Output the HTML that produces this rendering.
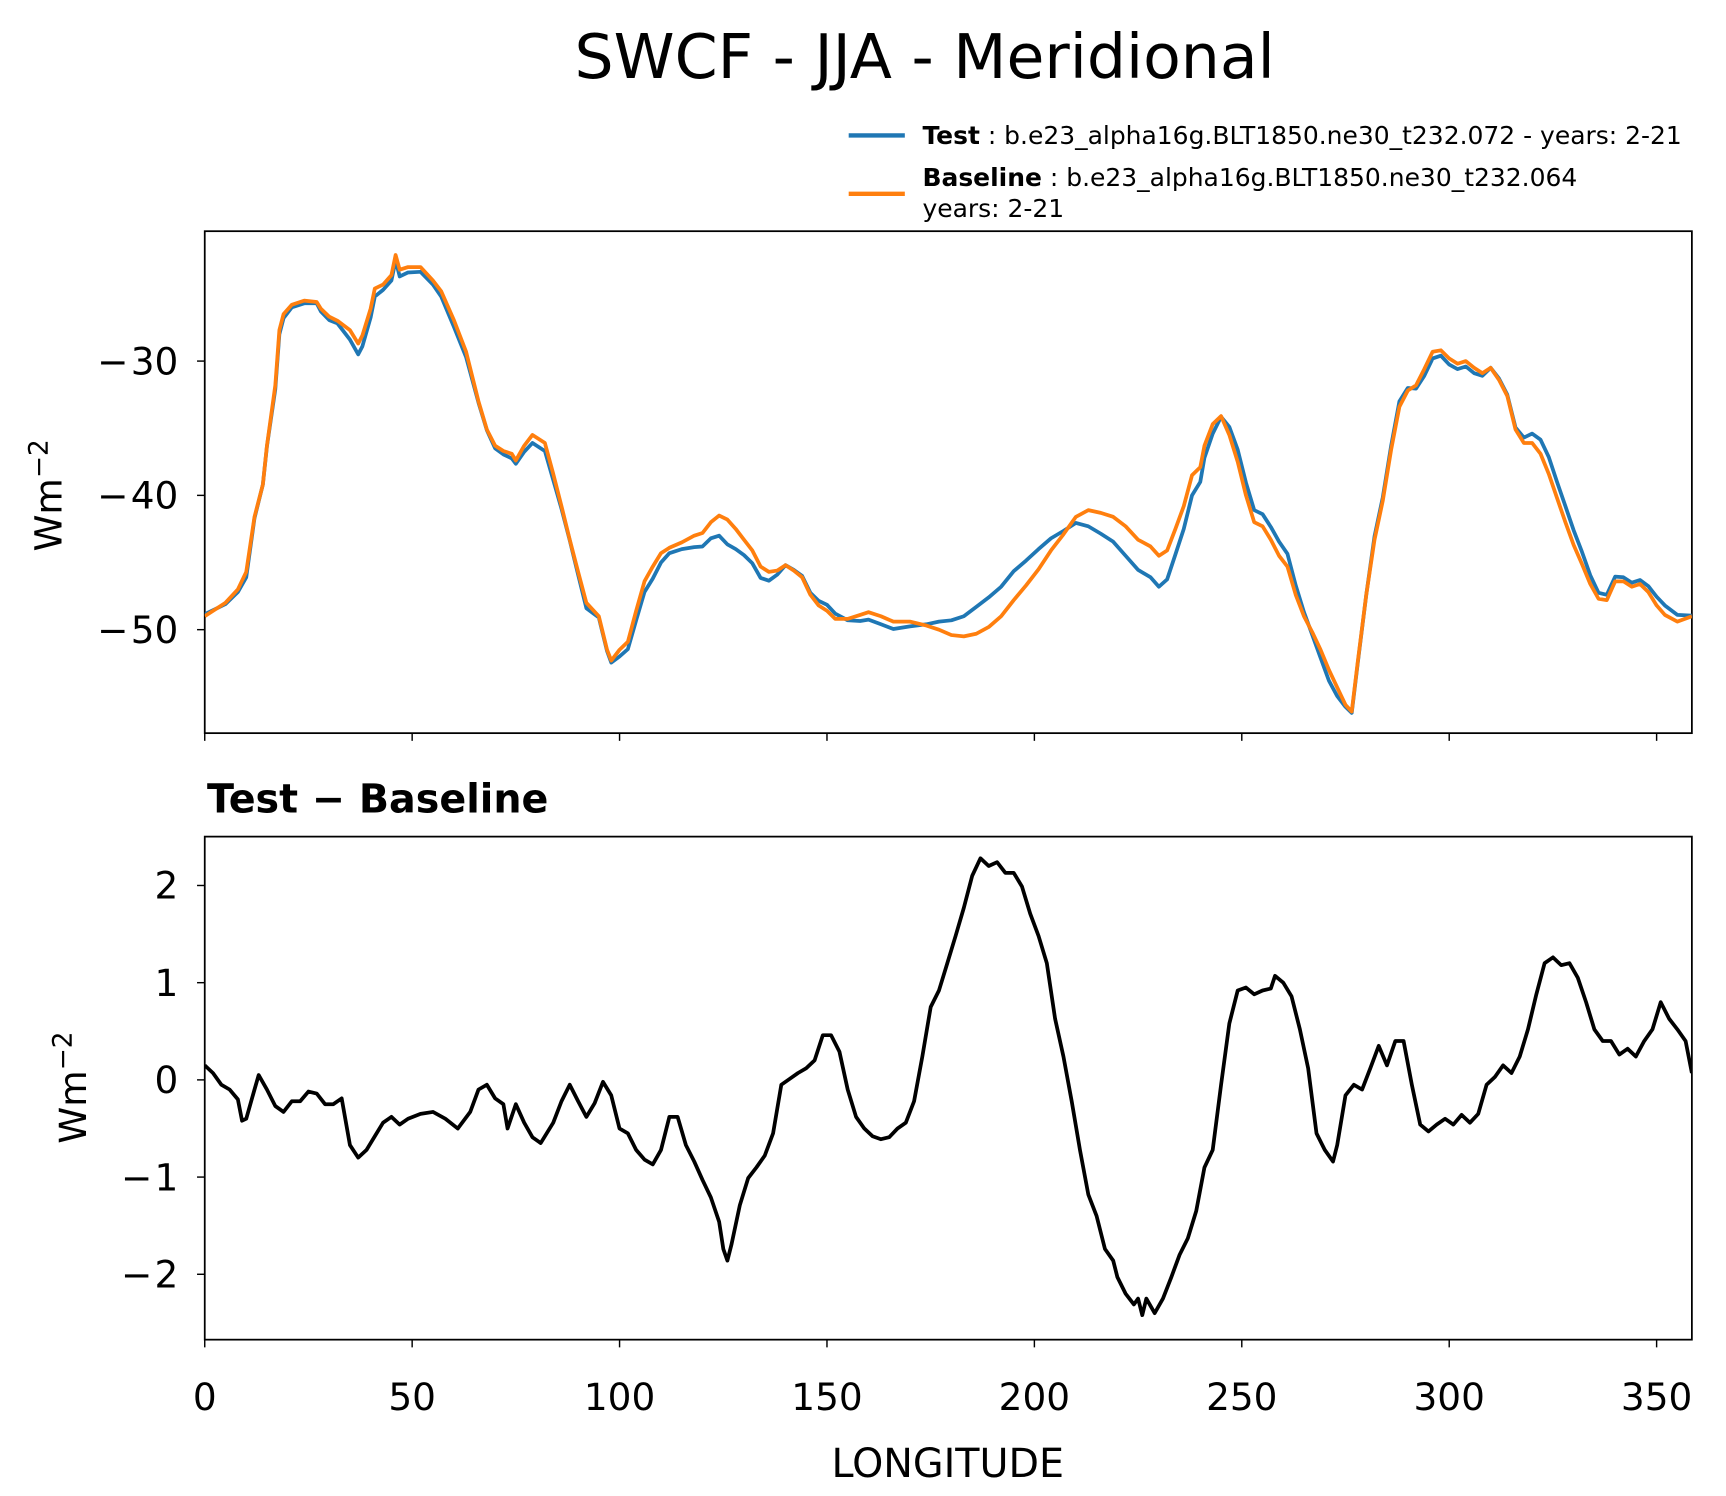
<!DOCTYPE html>
<html><head><meta charset="utf-8"><style>
html,body{margin:0;padding:0;background:#fff;}
svg{display:block;font-family:"DejaVu Sans","Liberation Sans",sans-serif;}
</style></head><body>
<svg id="fig" width="1726" height="1496" viewBox="0 0 1568 1359" xmlns="http://www.w3.org/2000/svg">
<rect width="1568" height="1359" fill="#fff"/>
<text x="840" y="71" font-size="56" text-anchor="middle">SWCF - JJA - Meridional</text>
<g>
<line x1="771" y1="123" x2="822" y2="123" stroke="#1f77b4" stroke-width="4"/>
<text x="838" y="131" font-size="22.7"><tspan font-weight="bold">Test</tspan> : b.e23_alpha16g.BLT1850.ne30_t232.072 - years: 2-21</text>
<line x1="771" y1="176" x2="822" y2="176" stroke="#ff7f0e" stroke-width="4"/>
<text x="838" y="169" font-size="22.7"><tspan font-weight="bold">Baseline</tspan> : b.e23_alpha16g.BLT1850.ne30_t232.064</text>
<text x="838" y="197" font-size="22.7">years: 2-21</text>
</g>
<g id="top"></g>
<g id="bot"></g>
<text x="188" y="738" font-size="36" font-weight="bold">Test − Baseline</text>
<text x="861" y="1342" font-size="36" text-anchor="middle">LONGITUDE</text>
<text transform="translate(56,450) rotate(-90)" font-size="34" text-anchor="middle">Wm<tspan dy="-13" font-size="24">−2</tspan></text>
<text transform="translate(78,988) rotate(-90)" font-size="34" text-anchor="middle">Wm<tspan dy="-13" font-size="24">−2</tspan></text>
</svg>
<script>
const lonTop=[0,5,8,10,12,14,15,17,18,19,21,24,27,28,30,32,35,37,38,40,41,43,45,46,47,49,52,55,57,60,63,66,68,70,72,74,75,77,79,82,84,86,88,90,92,95,97,98,100,102,104,106,108,110,112,115,118,120,122,124,126,128,130,132,134,136,138,140,142,144,146,148,150,152,155,158,160,163,166,170,174,177,180,183,186,189,192,195,198,201,204,207,210,213,216,219,222,225,228,230,232,234,236,238,240,241,243,245,247,249,251,253,255,257,259,261,263,265,267,269,271,273,275,276.5,278,280,282,284,286,288,290,292,294,296,298,300,302,304,306,308,310,312,314,316,318,320,322,324,326,328,330,332,334,336,338,340,342,344,346,348,350,352,355,358.5];
const baseline=[-49.0,-48.0,-47.0,-45.7,-41.6,-39.2,-36.3,-31.8,-27.7,-26.5,-25.8,-25.5,-25.6,-26.1,-26.7,-27.0,-27.7,-28.7,-28.1,-26.1,-24.6,-24.3,-23.6,-22.1,-23.2,-23.0,-23.0,-24.0,-24.8,-26.9,-29.3,-33.0,-35.1,-36.3,-36.7,-36.9,-37.4,-36.3,-35.5,-36.1,-38.4,-40.8,-43.3,-45.7,-48.0,-49.0,-51.5,-52.3,-51.5,-50.9,-48.6,-46.4,-45.3,-44.3,-43.9,-43.5,-43.0,-42.8,-42.0,-41.5,-41.8,-42.5,-43.3,-44.1,-45.3,-45.7,-45.6,-45.2,-45.6,-46.1,-47.4,-48.2,-48.6,-49.2,-49.2,-48.9,-48.7,-49.0,-49.4,-49.4,-49.7,-50.0,-50.4,-50.5,-50.3,-49.8,-49.0,-47.8,-46.7,-45.5,-44.1,-42.9,-41.6,-41.1,-41.3,-41.6,-42.3,-43.3,-43.8,-44.5,-44.1,-42.5,-40.8,-38.5,-37.9,-36.3,-34.7,-34.1,-35.5,-37.5,-40.0,-42.0,-42.3,-43.3,-44.5,-45.3,-47.4,-49.0,-50.2,-51.5,-53.0,-54.3,-55.6,-56.1,-52.3,-47.4,-43.3,-40.4,-36.6,-33.4,-32.2,-31.8,-30.6,-29.3,-29.2,-29.8,-30.2,-30.0,-30.5,-30.9,-30.5,-31.4,-32.6,-35.1,-36.1,-36.1,-36.9,-38.4,-40.2,-42.0,-43.7,-45.1,-46.6,-47.7,-47.8,-46.4,-46.4,-46.8,-46.6,-47.2,-48.2,-48.9,-49.4,-49.0];
const test=[-48.85,-48.1,-47.2,-46.1,-41.7,-39.2,-36.35,-32.1,-28.0,-26.8,-26.0,-25.7,-25.7,-26.3,-26.95,-27.2,-28.4,-29.5,-28.9,-26.75,-25.2,-24.7,-24.0,-22.5,-23.7,-23.4,-23.35,-24.3,-25.2,-27.4,-29.7,-33.1,-35.15,-36.5,-36.95,-37.25,-37.65,-36.75,-36.1,-36.7,-38.85,-41.0,-43.35,-45.9,-48.4,-49.1,-51.6,-52.45,-52.0,-51.45,-49.3,-47.2,-46.2,-45.0,-44.3,-44.0,-43.85,-43.8,-43.2,-43.0,-43.65,-44.0,-44.45,-45.05,-46.15,-46.35,-45.9,-45.2,-45.55,-46.0,-47.25,-47.85,-48.15,-48.8,-49.3,-49.35,-49.25,-49.6,-49.95,-49.75,-49.6,-49.4,-49.3,-49.0,-48.3,-47.6,-46.8,-45.65,-44.85,-44.0,-43.2,-42.65,-42.05,-42.3,-42.85,-43.45,-44.5,-45.55,-46.1,-46.8,-46.25,-44.4,-42.5,-40.0,-39.0,-37.2,-35.4,-34.15,-34.9,-36.6,-39.05,-41.1,-41.4,-42.35,-43.45,-44.35,-46.7,-48.7,-50.4,-52.1,-53.8,-54.95,-55.75,-56.2,-52.4,-47.4,-43.05,-40.15,-36.3,-33.0,-32.0,-32.05,-31.1,-29.8,-29.6,-30.25,-30.6,-30.4,-30.9,-31.1,-30.5,-31.3,-32.5,-34.95,-35.7,-35.4,-35.85,-37.15,-39.0,-40.8,-42.6,-44.2,-45.95,-47.25,-47.4,-46.05,-46.1,-46.5,-46.3,-46.75,-47.55,-48.2,-48.9,-48.95];
const lonDiff=[0,2,4,6,8,9,10,12,13,15,17,19,21,23,25,27,29,31,33,35,37,39,41,43,45,47,49,52,55,58,61,64,66,68,70,72,73,75,77,79,81,84,86,88,90,92,94,96,98,100,102,104,106,108,110,112,114,116,118,120,122,124,125,126,127,129,131,133,135,137,139,141,143,145,147,149,151,153,155,157,159,161,163,165,167,169,171,173,175,177,179,181,183,185,187,189,191,193,195,197,199,201,203,205,207,209,211,213,215,217,219,220,222,224,225,226,227,229,231,233,235,237,239,241,243,245,247,249,251,253,255,257,258,260,262,264,266,268,270,272,273,275,277,279,281,283,285,287,289,291,293,295,297,299,301,303,305,307,309,311,313,315,317,319,321,323,325,327,329,331,333,335,337,339,341,343,345,347,349,351,353,355,357,358.5];
const diff=[0.15,0.07,-0.05,-0.1,-0.2,-0.42,-0.4,-0.1,0.05,-0.1,-0.27,-0.33,-0.22,-0.22,-0.12,-0.14,-0.25,-0.25,-0.19,-0.67,-0.8,-0.72,-0.58,-0.44,-0.38,-0.46,-0.4,-0.35,-0.33,-0.4,-0.5,-0.33,-0.1,-0.05,-0.19,-0.25,-0.5,-0.25,-0.44,-0.59,-0.65,-0.44,-0.22,-0.05,-0.22,-0.38,-0.24,-0.02,-0.16,-0.5,-0.55,-0.72,-0.82,-0.87,-0.72,-0.38,-0.38,-0.67,-0.84,-1.03,-1.21,-1.46,-1.74,-1.86,-1.69,-1.29,-1.01,-0.9,-0.78,-0.55,-0.05,0.01,0.07,0.12,0.2,0.46,0.46,0.29,-0.1,-0.38,-0.5,-0.58,-0.61,-0.59,-0.5,-0.44,-0.22,0.24,0.75,0.92,1.2,1.48,1.77,2.1,2.28,2.2,2.24,2.13,2.13,1.99,1.71,1.48,1.2,0.63,0.24,-0.22,-0.72,-1.18,-1.4,-1.74,-1.86,-2.03,-2.2,-2.31,-2.25,-2.42,-2.25,-2.4,-2.25,-2.03,-1.8,-1.63,-1.35,-0.9,-0.72,-0.05,0.58,0.92,0.95,0.88,0.92,0.94,1.07,1.0,0.86,0.52,0.12,-0.55,-0.72,-0.84,-0.67,-0.16,-0.05,-0.1,0.12,0.35,0.15,0.4,0.4,-0.05,-0.46,-0.53,-0.46,-0.4,-0.46,-0.36,-0.44,-0.35,-0.05,0.03,0.15,0.07,0.24,0.52,0.88,1.2,1.26,1.18,1.2,1.05,0.8,0.52,0.4,0.4,0.26,0.32,0.24,0.4,0.52,0.8,0.63,0.52,0.4,0.07];
const xTicks=[0,50,100,150,200,250,300,350];
const topTicks=[-30,-40,-50];
const botTicks=[2,1,0,-1,-2];

const NS='http://www.w3.org/2000/svg';
const X0=186,X1=1537,XMAX=358.5;
const x=v=>X0+(X1-X0)*v/XMAX;
const yTop=v=>328-(v+30)*12.2;
const yBot=v=>981-v*88.3;
function mk(tag,attrs,parent){const e=document.createElementNS(NS,tag);for(const k in attrs)e.setAttribute(k,attrs[k]);parent.appendChild(e);return e;}
function panel(g,ya,yb,yf,ticks,lbl,pfx){
  const clipId=pfx+'clip';
  const cp=mk('clipPath',{id:clipId},g);mk('rect',{x:X0,y:ya,width:X1-X0,height:yb-ya},cp);
  const fr=mk('rect',{x:X0,y:ya,width:X1-X0,height:yb-ya,fill:'none',stroke:'#000','stroke-width':1.6},g);
  
  
  ticks.forEach(t=>{
    const yy=yf(t);
    const tl=mk('line',{x1:X0-7,x2:X0,y1:yy,y2:yy,stroke:'#000','stroke-width':1.3},g);
    
    
    const tx=mk('text',{x:X0-24,y:yy+12,'font-size':34,'text-anchor':'end'},g);
    if(t<0){
      const m=mk('tspan',{},tx);m.textContent='−';
      const n=mk('tspan',{dx:2},tx);n.textContent=String(-t);
    } else tx.textContent=String(t);
    
    
  });
  xTicks.forEach(t=>{
    const xx=x(t);
    const tl=mk('line',{x1:xx,x2:xx,y1:yb,y2:yb+7,stroke:'#000','stroke-width':1.3},g);
    
    
    if(lbl){
      const tx=mk('text',{x:xx,y:yb+64,'font-size':34,'text-anchor':'middle'},g);
      tx.textContent=String(t);
      
      
    }
  });
  return clipId;
}
function line(g,xs,ys,yf,color,clip,name){
  const d=xs.map((v,i)=>(i?'L':'M')+x(v).toFixed(1)+' '+yf(ys[i]).toFixed(1)).join(' ');
  const p=mk('path',{d:d,fill:'none',stroke:color,'stroke-width':3.4,'stroke-linejoin':'round','clip-path':'url(#'+clip+')'},g);
  
  
}
const gt=document.getElementById('top'),gb=document.getElementById('bot');
const c1=panel(gt,210,666,yTop,topTicks,false,'top');
line(gt,lonTop,test,yTop,'#1f77b4',c1,'test-line');
line(gt,lonTop,baseline,yTop,'#ff7f0e',c1,'baseline-line');
const c2=panel(gb,760,1217,yBot,botTicks,true,'bottom');
line(gb,lonDiff,diff,yBot,'#000',c2,'difference-line');
</script>
</body></html>
